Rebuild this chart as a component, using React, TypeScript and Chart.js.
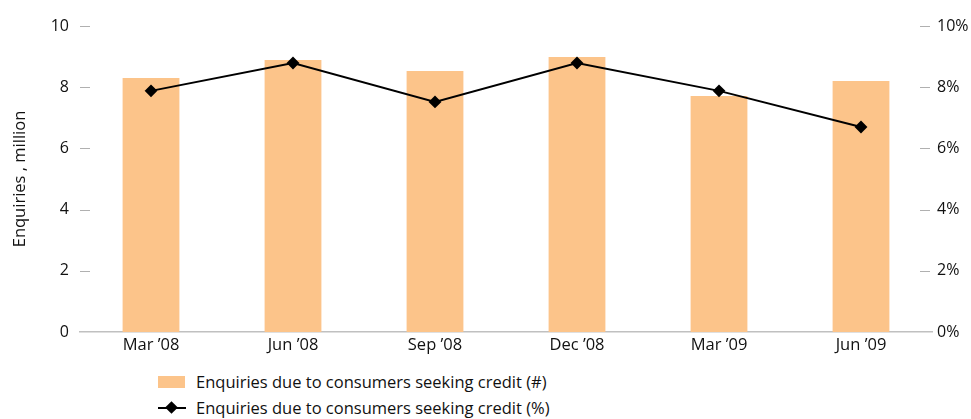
import React, { useEffect, useRef } from "react";
import { Chart, registerables } from "chart.js";

Chart.register(...registerables);

const categories = ["Mar ’08", "Jun ’08", "Sep ’08", "Dec ’08", "Mar ’09", "Jun ’09"];
const enquiriesMillion = [8.3, 8.89, 8.53, 8.99, 7.71, 8.2];
const enquiriesPercent = [7.88, 8.79, 7.52, 8.79, 7.88, 6.7];
const leftTicks = [0, 2, 4, 6, 8, 10];
const rightTicks = [0, 2, 4, 6, 8, 10];

const barLabel = "Enquiries due to consumers seeking credit (#)";
const lineLabel = "Enquiries due to consumers seeking credit (%)";
const yTitle = "Enquiries , million";

const BAR_COLOR = "#FCC48A";
const FONT = "'Open Sans', sans-serif";
const TEXT = "#111";

const tickDashes = {
  id: "tickDashes",
  afterDraw(chart: any) {
    const { ctx, chartArea } = chart;
    const y = chart.scales.y;
    const y1 = chart.scales.y1;
    ctx.save();
    ctx.strokeStyle = "#b0b0b0";
    ctx.lineWidth = 1;
    leftTicks.forEach((v) => {
      if (v === 0) return;
      const p = Math.round(y.getPixelForValue(v)) + 0.5;
      ctx.beginPath();
      ctx.moveTo(chartArea.left, p);
      ctx.lineTo(chartArea.left + 10, p);
      ctx.stroke();
    });
    rightTicks.forEach((v) => {
      if (v === 0) return;
      const p = Math.round(y1.getPixelForValue(v)) + 0.5;
      ctx.beginPath();
      ctx.moveTo(chartArea.right - 12, p);
      ctx.lineTo(chartArea.right - 2, p);
      ctx.stroke();
    });
    ctx.restore();
  },
};

export default function App() {
  const ref = useRef<HTMLCanvasElement>(null);
  useEffect(() => {
    const chart = new Chart(ref.current as HTMLCanvasElement, {
      type: "bar",
      data: {
        labels: categories,
        datasets: [
          {
            type: "line",
            label: lineLabel,
            data: enquiriesPercent,
            yAxisID: "y1",
            borderColor: "#000",
            backgroundColor: "#000",
            borderWidth: 2,
            pointStyle: "rectRot",
            pointRadius: 5,
            pointBackgroundColor: "#000",
            pointBorderColor: "#000",
            tension: 0,
            order: 0,
          } as any,
          {
            type: "bar",
            label: barLabel,
            data: enquiriesMillion,
            yAxisID: "y",
            backgroundColor: BAR_COLOR,
            categoryPercentage: 1,
            barPercentage: 0.4,
            order: 1,
          },
        ],
      },
      options: {
        animation: false,
        responsive: false,
        maintainAspectRatio: false,
        layout: { padding: { top: 26, left: 0, right: 0, bottom: 0 } },
        plugins: {
          legend: { display: false },
          tooltip: { enabled: false },
        },
        scales: {
          x: {
            grid: { display: false, drawTicks: false },
            border: { display: true, color: "#c0c0c0", width: 1.5 },
            ticks: { color: TEXT, font: { family: FONT, size: 16.5 }, padding: 3, autoSkip: false, maxRotation: 0 },
            afterFit: (s: any) => {
              s.height = 28;
            },
          },
          y: {
            position: "left",
            min: 0,
            max: 10,
            afterBuildTicks: (s: any) => {
              s.ticks = leftTicks.map((v) => ({ value: v }));
            },
            grid: { display: false, drawTicks: false },
            border: { display: false },
            ticks: { color: TEXT, font: { family: FONT, size: 16 }, padding: 11 },
            title: { display: true, text: yTitle, color: TEXT, font: { family: FONT, size: 16.5 }, padding: { top: 10, bottom: 0 } },
            afterFit: (s: any) => {
              s.width = 80;
            },
          },
          y1: {
            position: "right",
            min: 0,
            max: 10,
            afterBuildTicks: (s: any) => {
              s.ticks = rightTicks.map((v) => ({ value: v }));
            },
            grid: { display: false, drawTicks: false },
            border: { display: false },
            ticks: { color: TEXT, font: { family: FONT, size: 16 }, padding: 5, callback: (v: any) => v + "%" },
            afterFit: (s: any) => {
              s.width = 39;
            },
          },
        },
      },
      plugins: [tickDashes],
    });
    return () => chart.destroy();
  }, []);

  return (
    <div style={{ position: "absolute", left: 0, top: 0, width: 971, height: 419, background: "#fff", overflow: "hidden" }}>
      <canvas ref={ref} width={971} height={360} style={{ position: "absolute", left: 0, top: 0, width: 971, height: 360 }} />
      <div style={{ position: "absolute", left: 158, top: 370, fontFamily: FONT, fontSize: 16.5, color: TEXT, lineHeight: "23px" }}>
        <div style={{ display: "flex", alignItems: "center", height: 23 }}>
          <span style={{ display: "inline-block", width: 27, height: 12, background: BAR_COLOR, marginRight: 11 }} />
          <span>{barLabel}</span>
        </div>
        <div style={{ display: "flex", alignItems: "center", height: 23, marginTop: 3 }}>
          <span style={{ position: "relative", display: "inline-block", width: 28, height: 12, marginRight: 10 }}>
            <span style={{ position: "absolute", left: 0, top: 5, width: 28, height: 2, background: "#000" }} />
            <span style={{ position: "absolute", left: 9, top: 1.5, width: 9, height: 9, background: "#000", transform: "rotate(45deg)" }} />
          </span>
          <span>{lineLabel}</span>
        </div>
      </div>
    </div>
  );
}
